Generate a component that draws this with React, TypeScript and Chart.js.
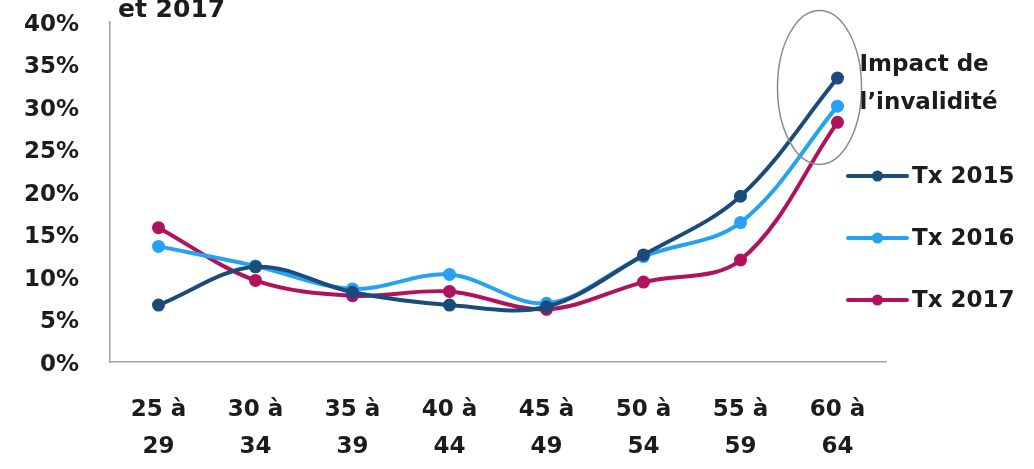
import React, { useEffect, useRef } from "react";
import { Chart, registerables } from "chart.js";

Chart.register(...registerables);

// Age bands (x axis), two-line labels
const ageBands: string[][] = [
  ["25 à", "29"],
  ["30 à", "34"],
  ["35 à", "39"],
  ["40 à", "44"],
  ["45 à", "49"],
  ["50 à", "54"],
  ["55 à", "59"],
  ["60 à", "64"],
];

// Rates per age band, in %
const tx2015: number[] = [6.7, 11.2, 8.2, 6.7, 6.5, 12.6, 19.5, 33.4];
const tx2016: number[] = [13.6, 11.3, 8.6, 10.3, 6.9, 12.4, 16.4, 30.1];
const tx2017: number[] = [15.8, 9.6, 7.8, 8.3, 6.2, 9.4, 12.0, 28.2];

const seriesLabels: string[] = ["Tx 2015", "Tx 2016", "Tx 2017"];
const seriesColors: string[] = ["#1a4b7a", "#27a2f3", "#b0125e"];

const yTicks: number[] = [0, 5, 10, 15, 20, 25, 30, 35, 40];

const titleText = "et 2017";
const impactLines: string[] = ["Impact de", "l’invalidité"];
// highlighted region: last age band, around the 2015–2017 peak
const impactIndex = 7;
const impactValue = 32.3;

const FONT = "'DejaVu Sans', sans-serif";
const TEXT = "#1c1c1c";

const decorPlugin = {
  id: "decor",
  afterDraw(chart: any) {
    const ctx = chart.ctx as CanvasRenderingContext2D;
    const xs = chart.scales.x;
    const ys = chart.scales.y;
    ctx.save();

    // title fragment at the top
    ctx.fillStyle = TEXT;
    ctx.font = `bold 25px ${FONT}`;
    ctx.textAlign = "left";
    ctx.textBaseline = "alphabetic";
    ctx.fillText(titleText, chart.chartArea.left + 8, 17);

    // ellipse around the last age band
    const cx = xs.getPixelForValue(impactIndex) - 18;
    const cy = ys.getPixelForValue(impactValue);
    ctx.beginPath();
    ctx.ellipse(cx, cy, 42, 77, 0, 0, Math.PI * 2);
    ctx.strokeStyle = "#8a8a8a";
    ctx.lineWidth = 1.5;
    ctx.stroke();

    // annotation text
    ctx.font = `bold 23px ${FONT}`;
    ctx.fillStyle = TEXT;
    ctx.fillText(impactLines[0], cx + 40, cy - 16);
    ctx.fillText(impactLines[1], cx + 40, cy + 22);

    // legend: line with marker, then label
    const lx0 = 848;
    const lx1 = 907;
    const ly0 = 176;
    const lstep = 62;
    chart.data.datasets.forEach((ds: any, i: number) => {
      const y = ly0 + i * lstep;
      ctx.strokeStyle = ds.borderColor;
      ctx.lineWidth = 4;
      ctx.lineCap = "round";
      ctx.beginPath();
      ctx.moveTo(lx0, y);
      ctx.lineTo(lx1, y);
      ctx.stroke();
      ctx.fillStyle = ds.borderColor;
      ctx.beginPath();
      ctx.arc((lx0 + lx1) / 2, y, 5.5, 0, Math.PI * 2);
      ctx.fill();
      ctx.fillStyle = TEXT;
      ctx.font = `bold 23px ${FONT}`;
      ctx.textBaseline = "middle";
      ctx.fillText(ds.label, lx1 + 5, y + 1);
      ctx.textBaseline = "alphabetic";
    });

    ctx.restore();
  },
};

export default function App() {
  const canvasRef = useRef<HTMLCanvasElement | null>(null);

  useEffect(() => {
    const canvas = canvasRef.current;
    if (!canvas) return;
    const values = [tx2015, tx2016, tx2017];
    const chart = new Chart(canvas, {
      type: "line",
      data: {
        labels: ageBands,
        datasets: values.map((v, i) => ({
          label: seriesLabels[i],
          data: v,
          borderColor: seriesColors[i],
          backgroundColor: seriesColors[i],
          pointBackgroundColor: seriesColors[i],
          pointBorderColor: seriesColors[i],
          borderWidth: 4,
          pointRadius: 6.5,
          pointBorderWidth: 0,
          pointHoverRadius: 6.5,
          tension: 0.35,
          fill: false,
        })),
      },
      options: {
        animation: false,
        responsive: true,
        maintainAspectRatio: false,
        layout: { padding: { top: 22, right: 148, left: 0, bottom: 0 } },
        plugins: {
          legend: { display: false },
          tooltip: { enabled: false },
          title: { display: false },
        },
        scales: {
          x: {
            type: "category",
            offset: true,
            grid: { display: false, drawTicks: false },
            border: { display: true, color: "#a3a3a3", width: 1.5 },
            ticks: {
              autoSkip: false,
              maxRotation: 0,
              minRotation: 0,
              padding: 30,
              color: TEXT,
              font: { family: FONT, size: 23, weight: "bold", lineHeight: 1.6 },
            },
            afterFit: (s: any) => {
              s.height = 107;
            },
          },
          y: {
            min: 0,
            max: 40,
            grid: { display: false, drawTicks: false },
            border: { display: true, color: "#a3a3a3", width: 1.5 },
            afterBuildTicks: (s: any) => {
              s.ticks = yTicks.map((v) => ({ value: v }));
            },
            ticks: {
              padding: 31,
              labelOffset: 3,
              color: TEXT,
              font: { family: FONT, size: 23, weight: "bold" },
              callback: (v: any) => `${v}%`,
            },
            afterFit: (s: any) => {
              s.width = 110;
              // keep the top of the plot at the layout padding
              s.paddingTop = 0;
              s.paddingBottom = 0;
            },
          },
        },
      },
      plugins: [decorPlugin],
    });
    return () => chart.destroy();
  }, []);

  return (
    <div
      style={{
        position: "absolute",
        left: 0,
        top: 0,
        width: 1034,
        height: 469,
        background: "#ffffff",
      }}
    >
      <canvas ref={canvasRef} />
    </div>
  );
}
